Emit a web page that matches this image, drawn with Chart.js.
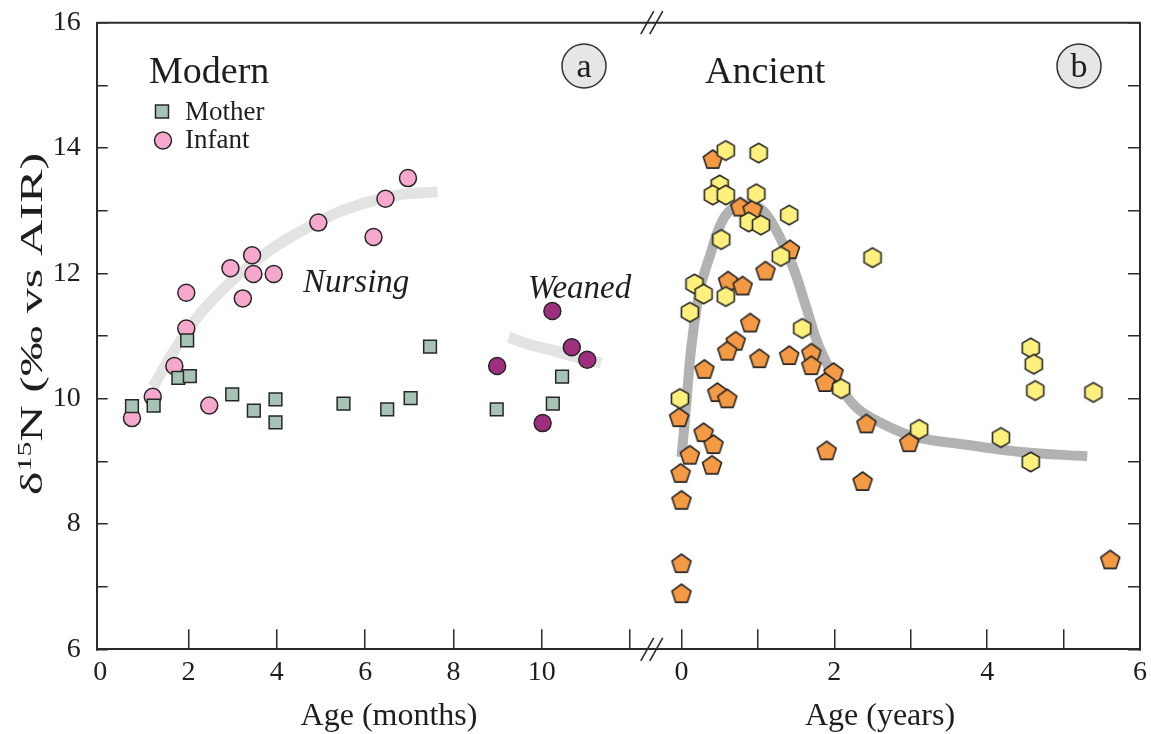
<!DOCTYPE html>
<html>
<head>
<meta charset="utf-8">
<style>
  html, body { margin: 0; padding: 0; background: #ffffff; }
  #wrap { width: 1151px; height: 734px; position: relative; }
</style>
<script src="https://cdn.jsdelivr.net/npm/chart.js@4.4.1/dist/chart.umd.min.js"></script>
</head>
<body>
<div id="wrap"><canvas id="c" width="1151" height="734"></canvas></div>
<script>
// ---------------- DATA ----------------
// Modern (a): ages in months
const motherMonths = [0.72, 1.21, 1.97, 1.77, 2.03, 2.99, 3.48, 3.97, 3.97, 5.51, 6.50, 7.03, 7.47, 8.98, 10.25, 10.46];
const motherD15N   = [9.88, 9.89, 10.93, 10.33, 10.36, 10.07, 9.81, 9.99, 9.62, 9.92, 9.83, 10.01, 10.83, 9.83, 9.92, 10.35];

const infantMonths = [0.72, 1.19, 1.68, 1.95, 1.95, 2.47, 2.95, 3.23, 3.44, 3.47, 3.93, 4.94, 6.19, 6.46, 6.97];
const infantD15N   = [9.69, 10.03, 10.52, 11.12, 11.69, 9.89, 12.08, 11.60, 12.29, 11.99, 11.99, 12.81, 12.58, 13.19, 13.52];

const weanedMonths = [8.99, 10.02, 10.24, 10.68, 11.03];
const weanedD15N   = [10.52, 9.61, 11.40, 10.82, 10.62];

const nursingCurveMonths = [1.20, 1.73, 2.33, 3.09, 3.84, 4.59, 5.34, 6.09, 6.85, 7.64];
const nursingCurveD15N   = [10.19, 10.83, 11.41, 11.95, 12.37, 12.69, 12.96, 13.14, 13.26, 13.30];

const weanedCurveMonths = [9.25, 9.75, 10.25, 10.90, 11.34];
const weanedCurveD15N   = [10.98, 10.86, 10.77, 10.64, 10.57];

// Ancient (b): ages in years
const pentYears = [0.41, 0.77, 0.93, 1.42, 1.10, 0.61, 0.80, 0.90, 0.71, 0.60, 1.02, 1.41, 1.70, 1.70, 1.99, 1.88,
                   0.30, 0.47, 0.60, -0.03, 0.29, 0.42, 0.11, 0.40, -0.01, 0.00, 0.00, 0.00, 1.90, 2.42, 2.37, 2.98, 5.61];
const pentD15N  = [13.81, 13.05, 13.01, 12.37, 12.03, 11.87, 11.79, 11.20, 10.91, 10.75, 10.63, 10.68, 10.72, 10.52, 10.41, 10.25,
                   10.46, 10.09, 9.99, 9.69, 9.45, 9.26, 9.09, 8.93, 8.80, 8.37, 7.36, 6.88, 9.16, 9.59, 8.67, 9.29, 7.42];

const hexYears = [0.58, 1.01, 0.50, 0.41, 0.58, 0.98, 1.41, 0.88, 1.04, 0.52, 1.30, 2.50, 0.17, 0.29, 0.58, 0.11,
                  1.58, 2.09, -0.02, 3.11, 4.18, 4.57, 4.57, 4.61, 4.63, 5.39];
const hexD15N  = [13.96, 13.92, 13.41, 13.25, 13.25, 13.27, 12.93, 12.82, 12.77, 12.54, 12.27, 12.25, 11.83, 11.67, 11.63, 11.38,
                  11.12, 10.16, 10.00, 9.51, 9.38, 8.99, 10.81, 10.55, 10.13, 10.10];

const ancientCurveYears = [0.00, 0.03, 0.06, 0.13, 0.24, 0.37, 0.54, 0.72, 0.89, 1.06, 1.24, 1.46, 1.63, 1.80, 2.02, 2.28, 2.60, 3.06, 3.75, 4.44, 5.31];
const ancientCurveD15N  = [9.07, 9.45, 9.87, 10.83, 11.73, 12.27, 12.85, 13.08, 13.09, 13.01, 12.69, 12.10, 11.47, 10.83, 10.30, 9.87, 9.62, 9.39, 9.26, 9.15, 9.08];

// Ticks
const yTicks      = [6, 7, 8, 9, 10, 11, 12, 13, 14, 15, 16];
const yLabels     = [6, 8, 10, 12, 14, 16];
const monthTicks  = [0, 2, 4, 6, 8, 10, 12];
const monthLabels = [0, 2, 4, 6, 8, 10];
const yearTicks   = [0, 1, 2, 3, 4, 5, 6];
const yearLabels  = [0, 2, 4, 6];

// ---------------- STYLE ----------------
const FONT = "'Liberation Serif', 'Times New Roman', serif";
const AX = '#2b2b2b';
const EDGE = '#262626';
const TXT = '#1e1e1e';
const C_MOTHER = '#a7c3b6';
const C_INFANT = '#f5a8cc';
const C_WEANED = '#9e2f7f';
const C_PENT = '#f59a44';
const C_HEX = '#fdf07c';

function pts(xs, ys) { return xs.map((x, i) => ({ x: x, y: ys[i] })); }

function polyCanvas(n, R, fill) {
  const s = 26;
  const c = document.createElement('canvas');
  c.width = s; c.height = s;
  const g = c.getContext('2d');
  g.beginPath();
  for (let i = 0; i < n; i++) {
    const t = -Math.PI / 2 + i * 2 * Math.PI / n;
    const px = s / 2 + R * Math.cos(t), py = s / 2 + R * Math.sin(t);
    if (i) g.lineTo(px, py); else g.moveTo(px, py);
  }
  g.closePath();
  g.fillStyle = fill; g.fill();
  g.lineWidth = 1.6; g.strokeStyle = EDGE; g.lineJoin = 'round'; g.stroke();
  return c;
}
const pentImg = polyCanvas(5, 10, C_PENT);
const hexImg = polyCanvas(6, 9.8, C_HEX);

function yScaleCfg(pos, showLabels) {
  return {
    type: 'linear', position: pos, min: 6, max: 16,
    afterBuildTicks: s => { s.ticks = yTicks.map(v => ({ value: v })); },
    afterFit: s => {
      s.width = (pos === 'left') ? 96.7 : 10;
      s.paddingTop = 0; s.paddingBottom = 0; s.paddingLeft = 0; s.paddingRight = 0;
    },
    grid: { drawOnChartArea: false, drawTicks: true, tickLength: pos === 'left' ? -11 : -12, color: AX, lineWidth: 1.5 },
    border: { display: true, color: AX, width: 2 },
    ticks: {
      display: showLabels, autoSkip: false, padding: 27,
      font: { family: FONT, size: 28 }, color: TXT,
      callback: v => yLabels.includes(v) ? String(v) : ''
    }
  };
}

function xScaleCfg(min, max, weight, tickList, labelList, hideZero) {
  return {
    type: 'linear', position: 'bottom', stack: 'xstack', stackWeight: weight,
    min: min, max: max,
    afterBuildTicks: s => { s.ticks = tickList.map(v => ({ value: v })); },
    afterFit: s => {
      s.height = 84.7;
      s.paddingTop = 0; s.paddingBottom = 0; s.paddingLeft = 0; s.paddingRight = 0;
    },
    grid: {
      drawOnChartArea: false, drawTicks: true, tickLength: -20, lineWidth: 1.5,
      color: ctx => (hideZero && ctx.tick && ctx.tick.value === 0) ? 'rgba(0,0,0,0)' : AX
    },
    border: { display: true, color: AX, width: 2 },
    ticks: {
      autoSkip: false, maxRotation: 0, minRotation: 0, padding: 27,
      font: { family: FONT, size: 28 }, color: TXT,
      callback: v => labelList.includes(v) ? String(v) : ''
    }
  };
}

// ---------------- OVERLAY (frame, break marks, labels) ----------------
const overlay = {
  id: 'overlay',
  afterDraw(chart) {
    const ctx = chart.ctx, a = chart.chartArea;
    const xm = chart.scales.xm, xy = chart.scales.xy;
    ctx.save();
    // top frame line
    ctx.strokeStyle = AX; ctx.lineWidth = 2;
    ctx.beginPath(); ctx.moveTo(a.left, a.top); ctx.lineTo(a.right, a.top); ctx.stroke();
    // axis break marks
    const bx = (xm.getPixelForValue(12) + xy.getPixelForValue(0)) / 2 - 4;
    ctx.lineWidth = 1.6;
    [a.top, a.bottom].forEach(y0 => {
      [-4.5, 4.5].forEach(off => {
        ctx.beginPath();
        ctx.moveTo(bx + off - 6.5, y0 + 11.5);
        ctx.lineTo(bx + off + 6.5, y0 - 11.5);
        ctx.stroke();
      });
    });

    ctx.fillStyle = TXT;
    ctx.textBaseline = 'alphabetic';
    // panel titles
    ctx.font = '38px ' + FONT;
    ctx.textAlign = 'left';
    ctx.fillText('Modern', 149, 83);
    ctx.fillText('Ancient', 705, 83);

    // legend
    ctx.lineWidth = 1.5; ctx.strokeStyle = EDGE;
    ctx.fillStyle = C_MOTHER;
    ctx.fillRect(155.5, 105, 13, 13); ctx.strokeRect(155.5, 105, 13, 13);
    ctx.fillStyle = C_INFANT;
    ctx.beginPath(); ctx.arc(163, 140.5, 8.5, 0, Math.PI * 2); ctx.fill(); ctx.stroke();
    ctx.fillStyle = TXT;
    ctx.font = '27px ' + FONT;
    ctx.fillText('Mother', 185, 120);
    ctx.fillText('Infant', 185, 148);

    // circled panel letters
    [['a', 584], ['b', 1079]].forEach(([t, cx]) => {
      ctx.beginPath(); ctx.arc(cx, 66, 22, 0, Math.PI * 2);
      ctx.fillStyle = '#e6e6e6'; ctx.fill();
      ctx.lineWidth = 1.5; ctx.strokeStyle = '#333'; ctx.stroke();
      ctx.fillStyle = TXT; ctx.font = '34px ' + FONT; ctx.textAlign = 'center';
      ctx.fillText(t, cx, 77);
    });

    // annotations
    ctx.textAlign = 'left';
    ctx.font = 'italic 33px ' + FONT;
    ctx.fillText('Nursing', 303, 292);
    ctx.fillText('Weaned', 528, 298);

    // axis titles
    ctx.font = '32px ' + FONT;
    ctx.textAlign = 'center';
    ctx.fillText('Age (months)', 389, 725);
    ctx.fillText('Age (years)', 880, 725);

    // y title with superscript
    ctx.translate(42, 324);
    ctx.rotate(-Math.PI / 2);
    ctx.scale(1.57, 1);
    const big = '32px ' + FONT, small = '19px ' + FONT;
    ctx.font = big; const w1 = ctx.measureText('\u03B4').width;
    ctx.font = small; const w2 = ctx.measureText('15').width;
    ctx.font = big; const w3 = ctx.measureText('N (\u2030 vs AIR)').width;
    let x0 = -(w1 + w2 + w3) / 2;
    ctx.textAlign = 'left';
    ctx.font = big; ctx.fillText('\u03B4', x0, 0); x0 += w1;
    ctx.font = small; ctx.fillText('15', x0, -11); x0 += w2;
    ctx.font = big; ctx.fillText('N (\u2030 vs AIR)', x0, 0);
    ctx.restore();
  }
};

// ---------------- CHART ----------------
const EDGE_W = 1.5;
new Chart(document.getElementById('c'), {
  type: 'scatter',
  data: {
    datasets: [
      { label: 'Nursing trend', data: pts(nursingCurveMonths, nursingCurveD15N), xAxisID: 'xm', yAxisID: 'y',
        showLine: true, pointRadius: 0, borderColor: '#e3e3e3', borderWidth: 11, cubicInterpolationMode: 'monotone', borderCapStyle: 'butt', order: 10 },
      { label: 'Weaned trend', data: pts(weanedCurveMonths, weanedCurveD15N), xAxisID: 'xm', yAxisID: 'y',
        showLine: true, pointRadius: 0, borderColor: '#e3e3e3', borderWidth: 11, cubicInterpolationMode: 'monotone', borderCapStyle: 'butt', order: 10 },
      { label: 'Ancient trend', data: pts(ancientCurveYears, ancientCurveD15N), xAxisID: 'xy', yAxisID: 'y',
        showLine: true, pointRadius: 0, borderColor: '#b2b2b2', borderWidth: 10, tension: 0.4, borderCapStyle: 'butt', order: 10 },
      { label: 'Infant', data: pts(infantMonths, infantD15N), xAxisID: 'xm', yAxisID: 'y',
        pointStyle: 'circle', pointRadius: 8.5, backgroundColor: C_INFANT, borderColor: EDGE, borderWidth: EDGE_W, order: 4 },
      { label: 'Infant (weaned)', data: pts(weanedMonths, weanedD15N), xAxisID: 'xm', yAxisID: 'y',
        pointStyle: 'circle', pointRadius: 8.5, backgroundColor: C_WEANED, borderColor: EDGE, borderWidth: EDGE_W, order: 4 },
      { label: 'Mother', data: pts(motherMonths, motherD15N), xAxisID: 'xm', yAxisID: 'y',
        pointStyle: 'rect', pointRadius: 9, backgroundColor: C_MOTHER, borderColor: EDGE, borderWidth: EDGE_W, order: 3 },
      { label: 'Ancient (pentagon)', data: pts(pentYears, pentD15N), xAxisID: 'xy', yAxisID: 'y',
        pointStyle: pentImg, pointRadius: 10, order: 5 },
      { label: 'Ancient (hexagon)', data: pts(hexYears, hexD15N), xAxisID: 'xy', yAxisID: 'y',
        pointStyle: hexImg, pointRadius: 10, order: 2 }
    ]
  },
  options: {
    responsive: false, animation: false, devicePixelRatio: 1, events: [],
    layout: { padding: { top: 22.7, left: 0, right: 0, bottom: 0 } },
    plugins: { legend: { display: false }, tooltip: { enabled: false } },
    scales: {
      xm: xScaleCfg(-0.079, 12.575, 559.3, monthTicks, monthLabels, true),
      xy: xScaleCfg(-0.34, 6.0, 485, yearTicks, yearLabels, false),
      y: yScaleCfg('left', true),
      y2: yScaleCfg('right', false)
    }
  },
  plugins: [overlay]
});
</script>
</body>
</html>
